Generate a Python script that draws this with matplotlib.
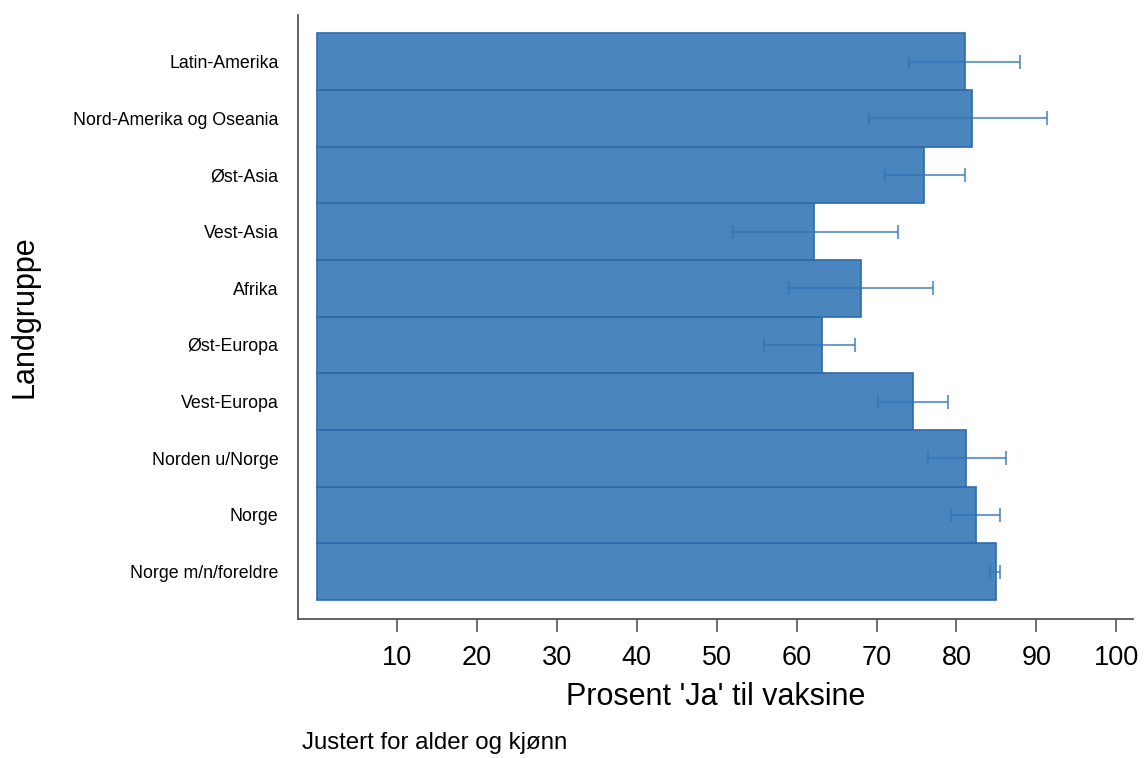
import matplotlib.pyplot as plt
import numpy as np

plt.rcParams['font.family'] = ['Liberation Sans', 'DejaVu Sans']

# data, bottom to top
grupper = ['Norge m/n/foreldre', 'Norge', 'Norden u/Norge', 'Vest-Europa',
           'Øst-Europa', 'Afrika', 'Vest-Asia', 'Øst-Asia',
           'Nord-Amerika og Oseania', 'Latin-Amerika']
prosent = [84.9, 82.4, 81.2, 74.6, 63.2, 68.0, 62.2, 76.0, 81.9, 81.1]
nedre = [84.2, 79.3, 76.5, 70.2, 55.9, 59.1, 52.1, 71.1, 69.1, 74.1]
ovre = [85.4, 85.4, 86.2, 79.0, 67.3, 77.1, 72.7, 81.1, 91.4, 88.0]
xticks = [10, 20, 30, 40, 50, 60, 70, 80, 90, 100]

fig = plt.figure(figsize=(11.45, 7.58), dpi=100)
ax = fig.add_axes([0.2603, 0.1834, 0.7292, 0.7966])

y = np.arange(len(grupper))
ax.barh(y, prosent, height=1.0, color='#4a86bd', edgecolor='#2f6aab', linewidth=1.2)

p = np.array(prosent)
err = [p - np.array(nedre), np.array(ovre) - p]
ax.errorbar(prosent, y, xerr=err, fmt='none', ecolor='#3474b8', alpha=0.7,
            elinewidth=1.5, capsize=5, capthick=1.5)

ax.set_xlim(-2.4, 102.1)
ax.set_ylim(-0.835, 9.82)
ax.set_xticks(xticks)
ax.set_yticks(y)
ax.set_yticklabels(grupper, fontsize=12.8)
ax.tick_params(axis='x', labelsize=19.5, length=9, width=1.2, color='#555555', pad=10)
ax.tick_params(axis='y', length=0, pad=14)

for s in ['top', 'right']:
    ax.spines[s].set_visible(False)
for s in ['left', 'bottom']:
    ax.spines[s].set_color('#555555')
    ax.spines[s].set_linewidth(1.3)

ax.set_xlabel("Prosent 'Ja' til vaksine", fontsize=22, labelpad=8)
ax.set_ylabel('Landgruppe', fontsize=22, labelpad=24)

fig.text(0.264, 0.0115, 'Justert for alder og kjønn', fontsize=17.3)

fig.savefig('out.png', dpi=100)
